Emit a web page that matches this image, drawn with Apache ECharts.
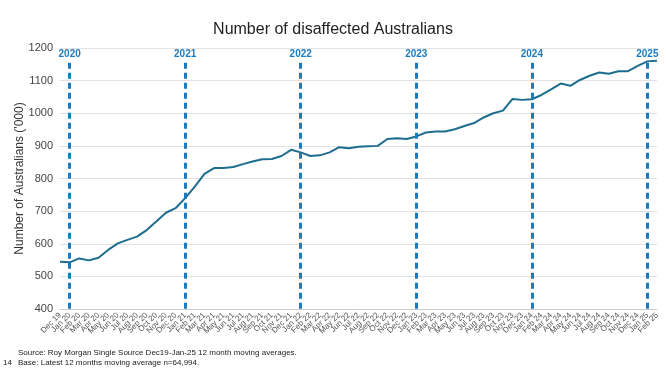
<!DOCTYPE html>
<html><head><meta charset="utf-8">
<script src="https://cdn.jsdelivr.net/npm/echarts@6/dist/echarts.min.js"></script>
<style>html,body{margin:0;padding:0;background:#fff}#c{width:666px;height:375px}</style>
</head><body><div id="c"></div>
<script>
const categories = ["Dec 19","Jan 20","Feb 20","Mar 20","Apr 20","May 20","Jun 20","Jul 20","Aug 20","Sep 20","Oct 20","Nov 20","Dec 20",
"Jan 21","Feb 21","Mar 21","Apr 21","May 21","Jun 21","Jul 21","Aug 21","Sep 21","Oct 21","Nov 21","Dec 21",
"Jan 22","Feb 22","Mar 22","Apr 22","May 22","Jun 22","Jul 22","Aug 22","Sep 22","Oct 22","Nov 22","Dec 22",
"Jan 23","Feb 23","Mar 23","Apr 23","May 23","Jun 23","Jul 23","Aug 23","Sep 23","Oct 23","Nov 23","Dec 23",
"Jan 24","Feb 24","Mar 24","Apr 24","May 24","Jun 24","Jul 24","Aug 24","Sep 24","Oct 24","Nov 24","Dec 24",
"Jan 25","Feb 25"];
const disaffected = [545,543,555,549,557,581,601,612,622,642,668,695,709,
740,775,814,832,832,835,844,852,859,860,869,888,
880,869,871,880,896,893,897,899,900,921,923,921,
929,941,944,944,951,961,970,987,1000,1008,1044,1041,
1043,1056,1073,1091,1084,1102,1115,1125,1121,1129,1129,1145,
1159,1161];
const yearMarkers = ["Jan 20","Jan 21","Jan 22","Jan 23","Jan 24","Jan 25"];
const yearLabels = ["2020","2021","2022","2023","2024","2025"];
const yTicks = {min:400, max:1200, interval:100};

const chart = echarts.init(document.getElementById('c'));
chart.setOption({
  animation:false,
  textStyle:{fontFamily:'Liberation Sans, Arial, sans-serif'},
  title:{text:'Number of disaffected Australians', left:'center', top:17,
    textStyle:{fontSize:16, fontWeight:'normal', color:'#222'}},
  grid:{left:60, right:9, top:48, bottom:66, containLabel:false, outerBoundsMode:'none'},
  xAxis:{type:'category', data:categories, boundaryGap:false,
    axisLine:{lineStyle:{color:'#ccc'}}, axisTick:{show:false},
    axisLabel:{interval:0, rotate:45, fontSize:8, color:'#555', margin:5}},
  yAxis:{type:'value', min:yTicks.min, max:yTicks.max, interval:yTicks.interval,
    name:"Number of Australians ('000)", nameLocation:'middle', nameGap:34, nameMoveOverlap:false,
    nameTextStyle:{fontSize:12, color:'#333'},
    axisLabel:{fontSize:11, color:'#444', margin:7, formatter:v=>String(v)},
    axisLine:{show:false}, axisTick:{show:false},
    splitLine:{lineStyle:{color:'#e2e2e2'}}},
  series:[{type:'line', data:disaffected, symbol:'none',
    lineStyle:{color:'#1d6e8e', width:2},
    markLine:{symbol:'none', silent:true,
      lineStyle:{type:[6,4], color:'#1a7bc0', width:3},
      label:{position:'start', distance:3, color:'#1a7bc0', fontWeight:'bold', fontSize:10, formatter:'{b}'},
      data: yearMarkers.map((m,i)=>[{name:yearLabels[i], coord:[m,1155]},{coord:[m,400]}])
    }}],
  graphic:[
    {type:'text', left:18, top:349, style:{text:'Source: Roy Morgan Single Source Dec19-Jan-25 12 month moving averages.', fontSize:8, fill:'#222', fontFamily:'Liberation Sans, Arial'}},
    {type:'text', left:3, top:359, style:{text:'14', fontSize:8, fill:'#222', fontFamily:'Liberation Sans, Arial'}},
    {type:'text', left:18, top:359, style:{text:'Base: Latest 12 months moving average n=64,994.', fontSize:8, fill:'#222', fontFamily:'Liberation Sans, Arial'}}
  ]
});
</script></body></html>
